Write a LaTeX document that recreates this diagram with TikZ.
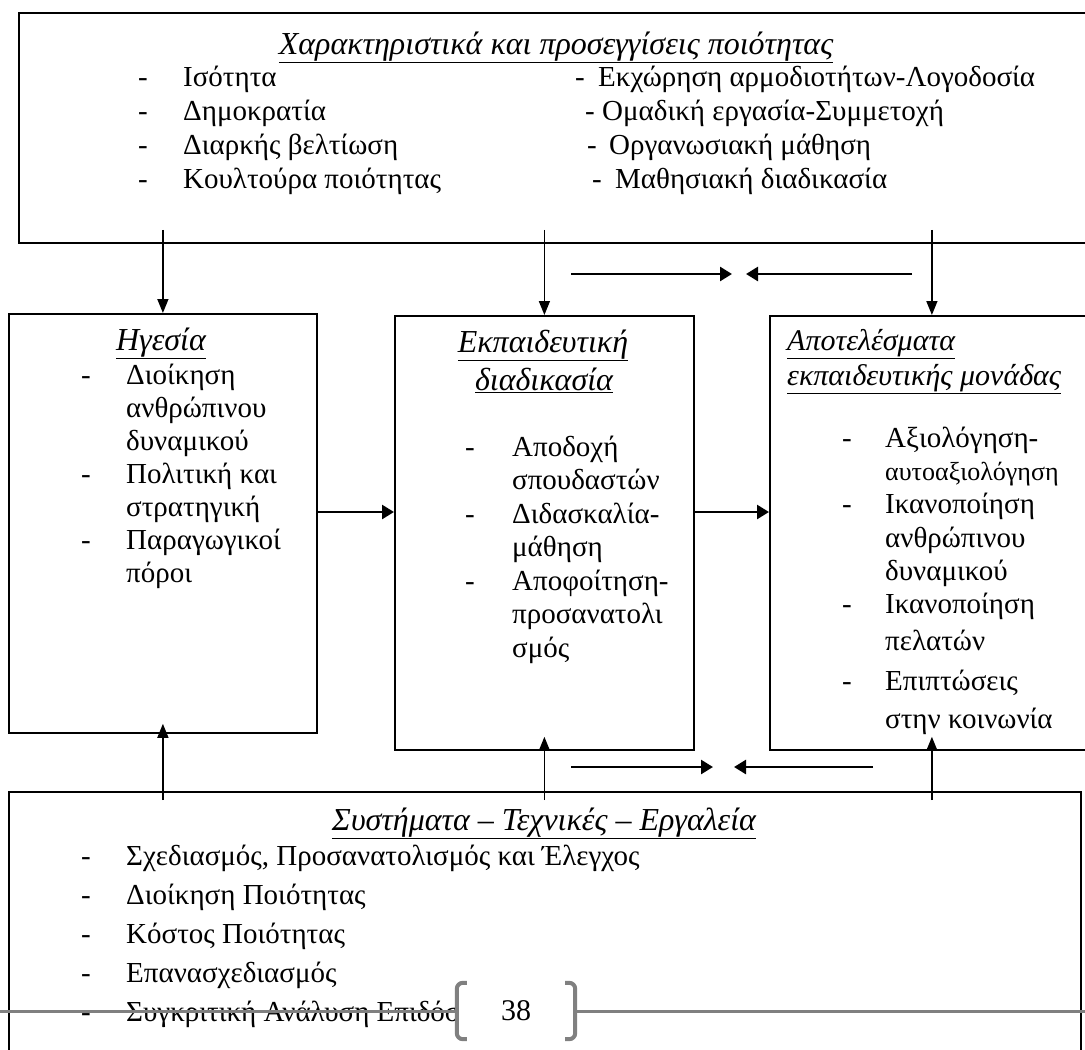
\documentclass[tikz,border=0pt]{standalone}
\usepackage{fontspec}
\setmainfont{Liberation Serif}
\usetikzlibrary{arrows.meta}
\usetikzlibrary{calc}

\begin{document}
\begin{tikzpicture}[x=1pt,y=-1pt,
 box/.style={draw,line width=1.8pt,anchor=north west,inner sep=0},
 txt/.style={anchor=base west,inner sep=0,font=\fontsize{29}{34}\selectfont},
 ttl/.style={anchor=base,inner sep=0,font=\fontsize{32}{36}\selectfont\itshape},
 link/.style={line width=1.5pt,-{Triangle[length=14pt,width=11pt]}},
 pair/.style={line width=2.6pt,-{Triangle[length=12pt,width=14pt]}},
 footer/.style={draw=black!50,line width=3pt}]
\useasboundingbox (0,0) rectangle (1085,1050);

\node[box,minimum width=1090pt,minimum height=230pt] (qual) at (18,12) {};
\node[box,minimum width=308pt,minimum height=419pt] (lead) at (8,313) {};
\node[box,minimum width=299pt,minimum height=434pt] (proc) at (394,315) {};
\node[box,minimum width=324pt,minimum height=434pt] (res) at (769,315) {};
\node[box,minimum width=1072pt,minimum height=300pt] (tools) at (8,791) {};

\node[ttl] (qualt) at (556,54) {\underline{Χαρακτηριστικά και προσεγγίσεις ποιότητας}};
\foreach \t [count=\i] in {Ισότητα,Δημοκρατία,Διαρκής βελτίωση,Κουλτούρα ποιότητας}{
 \node[txt] (qd\i) at (138,52+34*\i) {-};
 \node[txt] (ql\i) at (183,52+34*\i) {\t};
}
\foreach \dx/\tx/\t [count=\i] in {575/598/Εκχώρηση αρμοδιοτήτων-Λογοδοσία,585/602/Ομαδική εργασία-Συμμετοχή,587/609/Οργανωσιακή μάθηση,592/615/Μαθησιακή διαδικασία}{
 \node[txt] (qe\i) at (\dx,52+34*\i) {-};
 \node[txt] (qr\i) at (\tx,52+34*\i) {\t};
}

\node[ttl] (leadt) at (161,350) {\underline{Ηγεσία}};
\foreach \i in {1,4,6} \node[txt] (ld\i) at (81,351+33*\i) {-};
\foreach \t [count=\i] in {Διοίκηση,ανθρώπινου,δυναμικού,Πολιτική και,στρατηγική,Παραγωγικοί,πόροι}
 \node[txt] (ll\i) at (126,351+33*\i) {\t};

\node[ttl] (proct1) at (543,352) {\underline{Εκπαιδευτική}};
\node[ttl] (proct2) at (544,390) {\underline{διαδικασία}};
\foreach \i in {1,3,5} \node[txt] (pd\i) at (465,422.5+33.5*\i) {-};
\foreach \t [count=\i] in {Αποδοχή,σπουδαστών,Διδασκαλία-,μάθηση,Αποφοίτηση-,προσανατολι,σμός}
 \node[txt] (pl\i) at (512,422.5+33.5*\i) {\t};

\node[ttl,anchor=base west,font=\fontsize{30}{34}\selectfont\itshape] (rest1) at (787,350) {\underline{Αποτελέσματα}};
\node[ttl,anchor=base west,font=\fontsize{30}{34}\selectfont\itshape] (rest2) at (787,385) {\underline{εκπαιδευτικής μονάδας}};
\foreach \y in {447,513,613,690} \node[txt] (rd\y) at (842,\y) {-};
\foreach \y/\t [count=\i] in {447/Αξιολόγηση-,513/Ικανοποίηση,547/ανθρώπινου,580/δυναμικού,613/Ικανοποίηση,650/πελατών,690/Επιπτώσεις,728/στην κοινωνία}
 \node[txt] (rl\i) at (885,\y) {\t};
\node[txt,font=\fontsize{26}{30}\selectfont] (rself) at (885,480) {αυτοαξιολόγηση};

\node[ttl] (toolst) at (544,830) {\underline{Συστήματα – Τεχνικές – Εργαλεία}};
\foreach \t [count=\i] in {{Σχεδιασμός, Προσανατολισμός και Έλεγχος},Διοίκηση Ποιότητας,Κόστος Ποιότητας,Επανασχεδιασμός,Συγκριτική Ανάλυση Επιδόσεων}{
 \node[txt] (td\i) at (81,826+39*\i) {-};
 \node[txt] (tl\i) at (126,826+39*\i) {\t};
}

\draw[link] ([yshift=14pt]qual.south -| lead.north) -- (lead.north);
\draw[link] ([yshift=14pt]qual.south -| proc.north) -- (proc.north);
\draw[link] ([yshift=14pt]qual.south -| res.north) -- (res.north);
\draw[link] ([yshift=-9pt]tools.north -| lead.south) -- ([yshift=10pt]lead.south);
\draw[link] ([yshift=-9pt]tools.north -| proc.south) -- ([yshift=14pt]proc.south);
\draw[link] ([yshift=-9pt]tools.north -| res.south) -- ([yshift=14pt]res.south);

\coordinate (row) at (0,512);
\draw[pair] (lead.east |- row) -- (proc.west |- row);
\draw[pair] (proc.east |- row) -- (res.west |- row);

\coordinate (ua) at (571,274);
\coordinate (ub) at (732,274);
\coordinate (uc) at (912,274);
\coordinate (ud) at (746,274);
\draw[pair] (ua) -- (ub);
\draw[pair] (uc) -- (ud);
\coordinate (la) at (571,767);
\coordinate (lb) at (713,767);
\coordinate (lc) at (873,767);
\coordinate (ld) at (734,767);
\draw[pair] (la) -- (lb);
\draw[pair] (lc) -- (ld);

\node[fill=white,inner sep=0,minimum width=118pt,minimum height=56pt,font=\fontsize{30}{34}\selectfont] (page) at (516,1011) {38};
\coordinate (fl) at (0,1011);
\coordinate (fr) at (1085,1011);
\draw[footer] (fl) -- (page.west);
\draw[footer] (page.east) -- (fr);
\draw[footer,line width=4pt,rounded corners=6pt] ([xshift=10pt]page.north west) -- (page.north west) -- (page.south west) -- ([xshift=10pt]page.south west);
\draw[footer,line width=4pt,rounded corners=6pt] ([xshift=-10pt]page.north east) -- (page.north east) -- (page.south east) -- ([xshift=-10pt]page.south east);
\end{tikzpicture}
\end{document}
